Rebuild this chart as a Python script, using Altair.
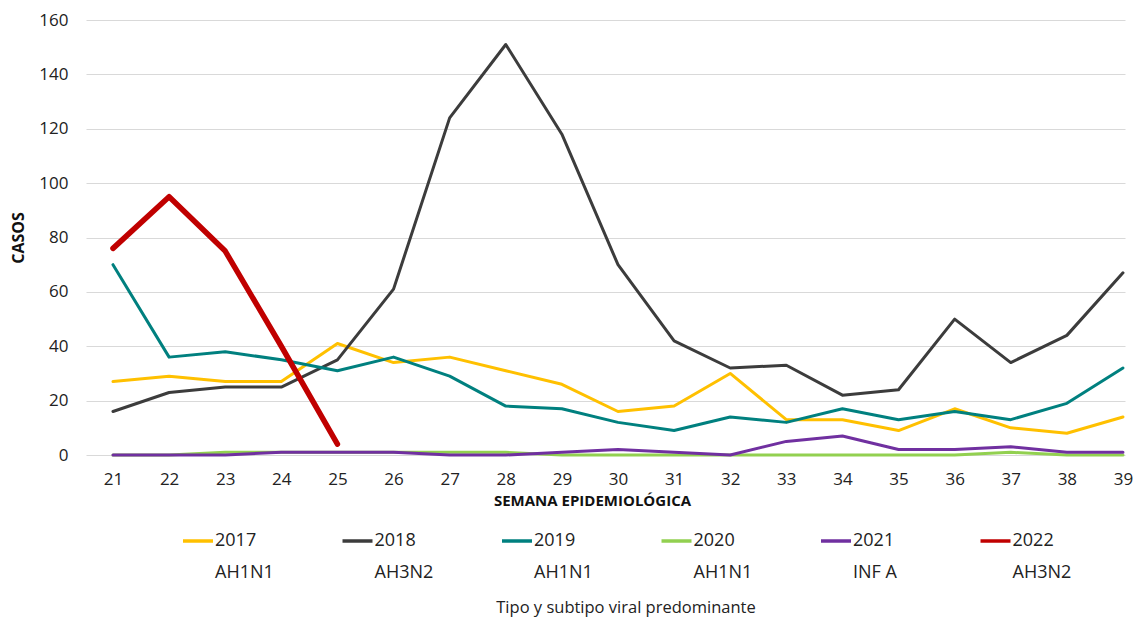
import altair as alt
import pandas as pd

weeks = list(range(21, 40))
years = ["2017", "2018", "2019", "2020", "2021", "2022"]
subtypes = ["AH1N1", "AH3N2", "AH1N1", "AH1N1", "INF A", "AH3N2"]
colors = ["#FFC000", "#3C3C3C", "#00807F", "#92D050", "#7030A0", "#C00000"]

v2017 = [27, 29, 27, 27, 41, 34, 36, 31, 26, 16, 18, 30, 13, 13, 9, 17, 10, 8, 14]
v2018 = [16, 23, 25, 25, 35, 61, 124, 151, 118, 70, 42, 32, 33, 22, 24, 50, 34, 44, 67]
v2019 = [70, 36, 38, 35, 31, 36, 29, 18, 17, 12, 9, 14, 12, 17, 13, 16, 13, 19, 32]
v2020 = [0, 0, 1, 1, 1, 1, 1, 1, 0, 0, 0, 0, 0, 0, 0, 0, 1, 0, 0]
v2021 = [0, 0, 0, 1, 1, 1, 0, 0, 1, 2, 1, 0, 5, 7, 2, 2, 3, 1, 1]
v2022 = [76, 95, 75, 40, 4]

series = [v2017, v2018, v2019, v2020, v2021, v2022]
rows = []
for y, vals in zip(years, series):
    for w, v in zip(weeks, vals):
        rows.append({"Semana": w, "Casos": v, "Año": y})
df = pd.DataFrame(rows)

sub_expr = "".join(f"datum.label == '{y}' ? '{s}' : " for y, s in zip(years, subtypes)) + "''"
label_expr = f"[datum.label, {sub_expr}]"

FONT = "Open Sans"

chart = alt.Chart(df).mark_line(strokeCap="round", strokeJoin="round").encode(
    x=alt.X("Semana:Q",
            scale=alt.Scale(domain=[20.519, 39.036], nice=False, zero=False),
            axis=alt.Axis(values=weeks, format="d", grid=False, domain=False, ticks=False,
                          labelFontSize=17, labelPadding=16, labelColor="#222222",
                          title="SEMANA EPIDEMIOLÓGICA", titleFontSize=15,
                          titleFontWeight="bold", titleColor="#111111",
                          titlePadding=6, titleX=506)),
    y=alt.Y("Casos:Q",
            scale=alt.Scale(domain=[0, 160], nice=False),
            axis=alt.Axis(values=list(range(0, 161, 20)), domain=False, ticks=False,
                          gridColor="#D9D9D9", gridWidth=1.2,
                          labelFontSize=17, labelPadding=18, labelColor="#222222",
                          title="CASOS", titleFontSize=16, titleFontWeight="bold",
                          titleColor="#111111", titlePadding=12)),
    color=alt.Color("Año:N", scale=alt.Scale(domain=years, range=colors),
                    legend=alt.Legend(
                        orient="none", legendX=95, legendY=504,
                        direction="horizontal", columns=6, columnPadding=61.5,
                        gridAlign="all",
                        symbolType="stroke", symbolSize=900, symbolStrokeWidth=3.5,
                        labelFontSize=18, labelOffset=0, labelColor="#222222",
                        labelExpr=label_expr, labelLimit=200,
                        title="Tipo y subtipo viral predominante",
                        titleOrient="bottom", titleAnchor="middle", titleLimit=500,
                        titleFontSize=16.5, titleFontWeight="normal",
                        titleColor="#222222", titlePadding=18, padding=0)),
    strokeWidth=alt.condition("datum['Año'] == '2022'", alt.value(5.5), alt.value(3)),
    order=alt.Order("Año:N"),
).properties(
    width=1039, height=435, padding={"left": 2, "top": 3, "right": 0, "bottom": 0}
).configure(
    font=FONT, style={"guide-label": {"lineHeight": 32}}
).configure_view(stroke=None)

chart.save("out.html", embed_options={"renderer": "svg", "actions": False})
